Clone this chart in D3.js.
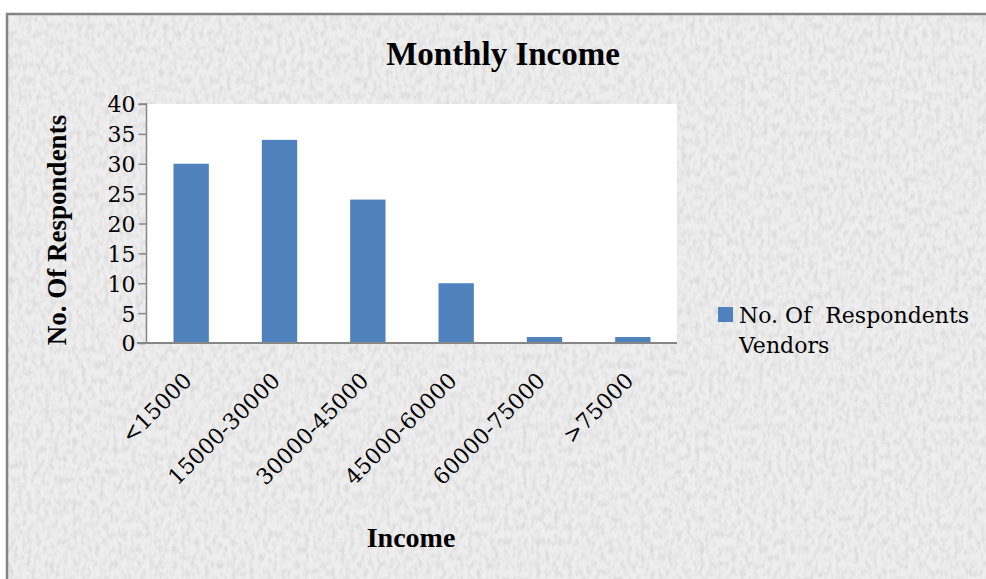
<!DOCTYPE html>
<html lang="en">
<head>
<meta charset="UTF-8"/>
<title>Monthly Income</title>
<style>
  * { margin: 0; padding: 0; }
  body { background: #fff; width: 986px; height: 579px; overflow: hidden; }
  svg { display: block; font-family: "DejaVu Serif", serif; }
</style>
</head>
<body>
<div id="chart"></div>
<script src="https://cdn.jsdelivr.net/npm/d3@7/dist/d3.min.js"></script>
<script>
// --- data ---
const categories = ['<15000', '15000-30000', '30000-45000', '45000-60000', '60000-75000', '>75000']
const respondents = [30, 34, 24, 10, 1, 1]
const yTicks = [0, 5, 10, 15, 20, 25, 30, 35, 40]
const seriesName = ['No. Of  Respondents', 'Vendors']

const W = 986, H = 579
const plot = { left: 147, top: 104, right: 677, bottom: 343 }
const BOLD = '"Liberation Serif", "Times New Roman", serif'
const REG  = '"DejaVu Serif", serif'

const svg = d3.select('#chart').append('svg')
  .attr('width', W).attr('height', H)

// granite-ish texture for the chart area
const defs = svg.append('defs')
const f = defs.append('filter').attr('id', 'granite')
  .attr('x', 0).attr('y', 0).attr('width', '100%').attr('height', '100%')
f.append('feTurbulence').attr('type', 'fractalNoise')
  .attr('baseFrequency', '0.22 0.13').attr('numOctaves', 3).attr('seed', 7).attr('result', 'n')
f.append('feColorMatrix').attr('in', 'n').attr('type', 'matrix')
  .attr('values', '0 0 0 0 0.62  0 0 0 0 0.62  0 0 0 0 0.62  0 0 0 -2.4 1.45')
  .attr('result', 'spots')
f.append('feComposite').attr('in', 'spots').attr('in2', 'SourceGraphic').attr('operator', 'in')

svg.append('rect').attr('x', 7).attr('y', 14).attr('width', W).attr('height', H)
  .attr('fill', '#eeeeee')
svg.append('rect').attr('x', 7).attr('y', 14).attr('width', W).attr('height', H)
  .attr('fill', '#eeeeee').attr('filter', 'url(#granite)').attr('opacity', 0.55)
svg.append('rect').attr('x', 7).attr('y', 14).attr('width', W + 10).attr('height', H + 10)
  .attr('fill', 'none').attr('stroke', '#858585').attr('stroke-width', 2.5)

// --- scales ---
const x = d3.scaleBand().domain(categories).range([plot.left, plot.right]).paddingInner(0.6).paddingOuter(0.3)
const y = d3.scaleLinear().domain([0, 40]).range([plot.bottom, plot.top])

svg.append('rect')
  .attr('x', plot.left).attr('y', plot.top)
  .attr('width', plot.right - plot.left).attr('height', plot.bottom - plot.top)
  .attr('fill', '#fff')

svg.selectAll('rect.bar')
  .data(categories)
  .join('rect')
    .attr('class', 'bar')
    .attr('x', d => x(d))
    .attr('width', x.bandwidth())
    .attr('y', (d, i) => y(respondents[i]))
    .attr('height', (d, i) => y(0) - y(respondents[i]))
    .attr('fill', '#4f81bd')

// y axis
const yAxis = svg.append('g')
  .attr('transform', `translate(${plot.left - 0.5},0)`)
  .call(d3.axisLeft(y).tickValues(yTicks).tickSize(8).tickPadding(3))
yAxis.selectAll('path, line').attr('stroke', '#868686').attr('stroke-width', 1.5)
yAxis.select('.domain').attr('d', `M-8,${plot.top}H0V${plot.bottom}`)
yAxis.selectAll('text').attr('font-size', 22).attr('fill', '#000')
  .attr('font-family', REG).attr('dy', '0.36em')

// x axis
const xAxis = svg.append('g')
  .attr('transform', `translate(0,${plot.bottom})`)
  .call(d3.axisBottom(x).tickSize(0).tickPadding(0))
xAxis.select('.domain').attr('d', `M${plot.left - 10},0H${plot.right}`)
  .attr('stroke', '#868686').attr('stroke-width', 2)
xAxis.selectAll('text')
  .attr('font-size', 22).attr('fill', '#000')
  .attr('font-family', REG)
  .attr('text-anchor', 'end')
  .attr('dy', 0).attr('y', 0)
  .attr('transform', 'translate(2,39) rotate(-45)')

// titles
svg.append('text').attr('x', 503).attr('y', 65).attr('text-anchor', 'middle')
  .attr('font-family', BOLD).attr('font-size', 33).attr('font-weight', 'bold').text('Monthly Income')
svg.append('text').attr('x', 411).attr('y', 547).attr('text-anchor', 'middle')
  .attr('font-family', BOLD).attr('font-size', 28).attr('font-weight', 'bold').text('Income')
svg.append('text').attr('transform', 'translate(66,230) rotate(-90)').attr('text-anchor', 'middle')
  .attr('font-family', BOLD).attr('font-size', 27).attr('font-weight', 'bold').text('No. Of Respondents')

// legend
const lg = svg.append('g').attr('transform', 'translate(718,307)')
lg.append('rect').attr('width', 15).attr('height', 15).attr('fill', '#4f81bd')
lg.selectAll('text').data(seriesName).join('text')
  .attr('x', 21).attr('y', (d, i) => 16 + i * 30)
  .attr('font-size', 22).attr('xml:space', 'preserve')
  .text(d => d)
</script>
</body>
</html>
